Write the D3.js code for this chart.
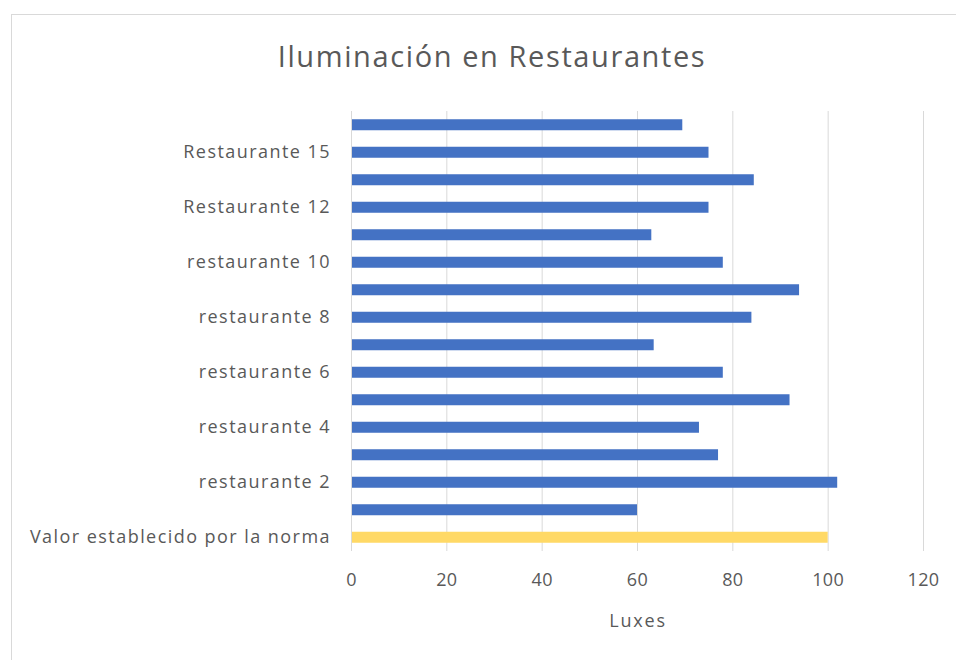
<html>
<head>
<meta charset="utf-8">
<script src="https://cdn.jsdelivr.net/npm/d3@7"></script>
<style>
  body { margin: 0; background: #fff; }
  text { font-family: "Open Sans", sans-serif; fill: #595959; }
</style>
</head>
<body>
<svg id="chart" width="956" height="660"></svg>
<script>
// categories bottom -> top, as in the workbook
var categories = ["Valor establecido por la norma", "restaurante 1", "restaurante 2", "restaurante 3",
  "restaurante 4", "restaurante 5", "restaurante 6", "restaurante 7", "restaurante 8", "restaurante 9",
  "restaurante 10", "restaurante 11", "Restaurante 12", "Restaurante 13", "Restaurante 15", "Restaurante 16"];
var luxes = [100, 60, 102, 77, 73, 92, 78, 63.5, 84, 94, 78, 63, 75, 84.5, 75, 69.5];
var xTicks = [0, 20, 40, 60, 80, 100, 120];
var title = "Iluminación en Restaurantes";
var xTitle = "Luxes";

var svg = d3.select("#chart");
var m = {left: 351, right: 923, top: 111, bottom: 551};

// chart frame
svg.append("rect")
  .attr("x", 11.5).attr("y", 14.5)
  .attr("width", 1000).attr("height", 1000)
  .attr("fill", "none").attr("stroke", "#d9d9d9");

var x = d3.scaleLinear().domain([0, 120]).range([m.left, m.right]);
var y = d3.scaleBand().domain(categories).range([m.bottom, m.top]).paddingInner(0.6).paddingOuter(0.3);

// gridlines
svg.append("g").selectAll("line").data(xTicks).join("line")
  .attr("x1", d => x(d) + 0.5).attr("x2", d => x(d) + 0.5)
  .attr("y1", m.top).attr("y2", m.bottom)
  .attr("stroke", "#d9d9d9").attr("stroke-width", 1);

// bars
svg.append("g").selectAll("rect").data(categories).join("rect")
  .attr("x", x(0) + 1)
  .attr("y", d => y(d))
  .attr("width", (d, i) => x(luxes[i]) - x(0) - 1)
  .attr("height", y.bandwidth())
  .attr("fill", (d, i) => i == 0 ? "#ffd966" : "#4472c4");

// x axis labels
var xAxis = svg.append("g")
  .attr("transform", "translate(0," + (m.bottom + 29) + ")")
  .call(d3.axisBottom(x).tickValues(xTicks).tickSize(0).tickPadding(0));
xAxis.select(".domain").remove();
xAxis.selectAll("text").style("font-size", "18px").style("letter-spacing", "0.4px")
  .attr("fill", "#595959").attr("dy", "0.35em");

// y axis labels, every other one like Excel
var yAxis = svg.append("g")
  .attr("transform", "translate(" + (m.left - 20) + ",0)")
  .call(d3.axisLeft(y).tickValues(categories.filter((d, i) => i % 2 == 0)).tickSize(0).tickPadding(0));
yAxis.select(".domain").remove();
yAxis.selectAll("text").style("font-size", "18px").style("letter-spacing", "1.45px").attr("fill", "#595959");

svg.append("text")
  .attr("x", 492).attr("y", 57)
  .attr("text-anchor", "middle").attr("dy", "0.35em")
  .style("font-size", "29px").style("letter-spacing", "1.6px")
  .text(title);

svg.append("text")
  .attr("x", 638).attr("y", 621)
  .attr("text-anchor", "middle").attr("dy", "0.35em")
  .style("font-size", "18px").style("letter-spacing", "1.8px")
  .text(xTitle);
</script>
</body>
</html>
